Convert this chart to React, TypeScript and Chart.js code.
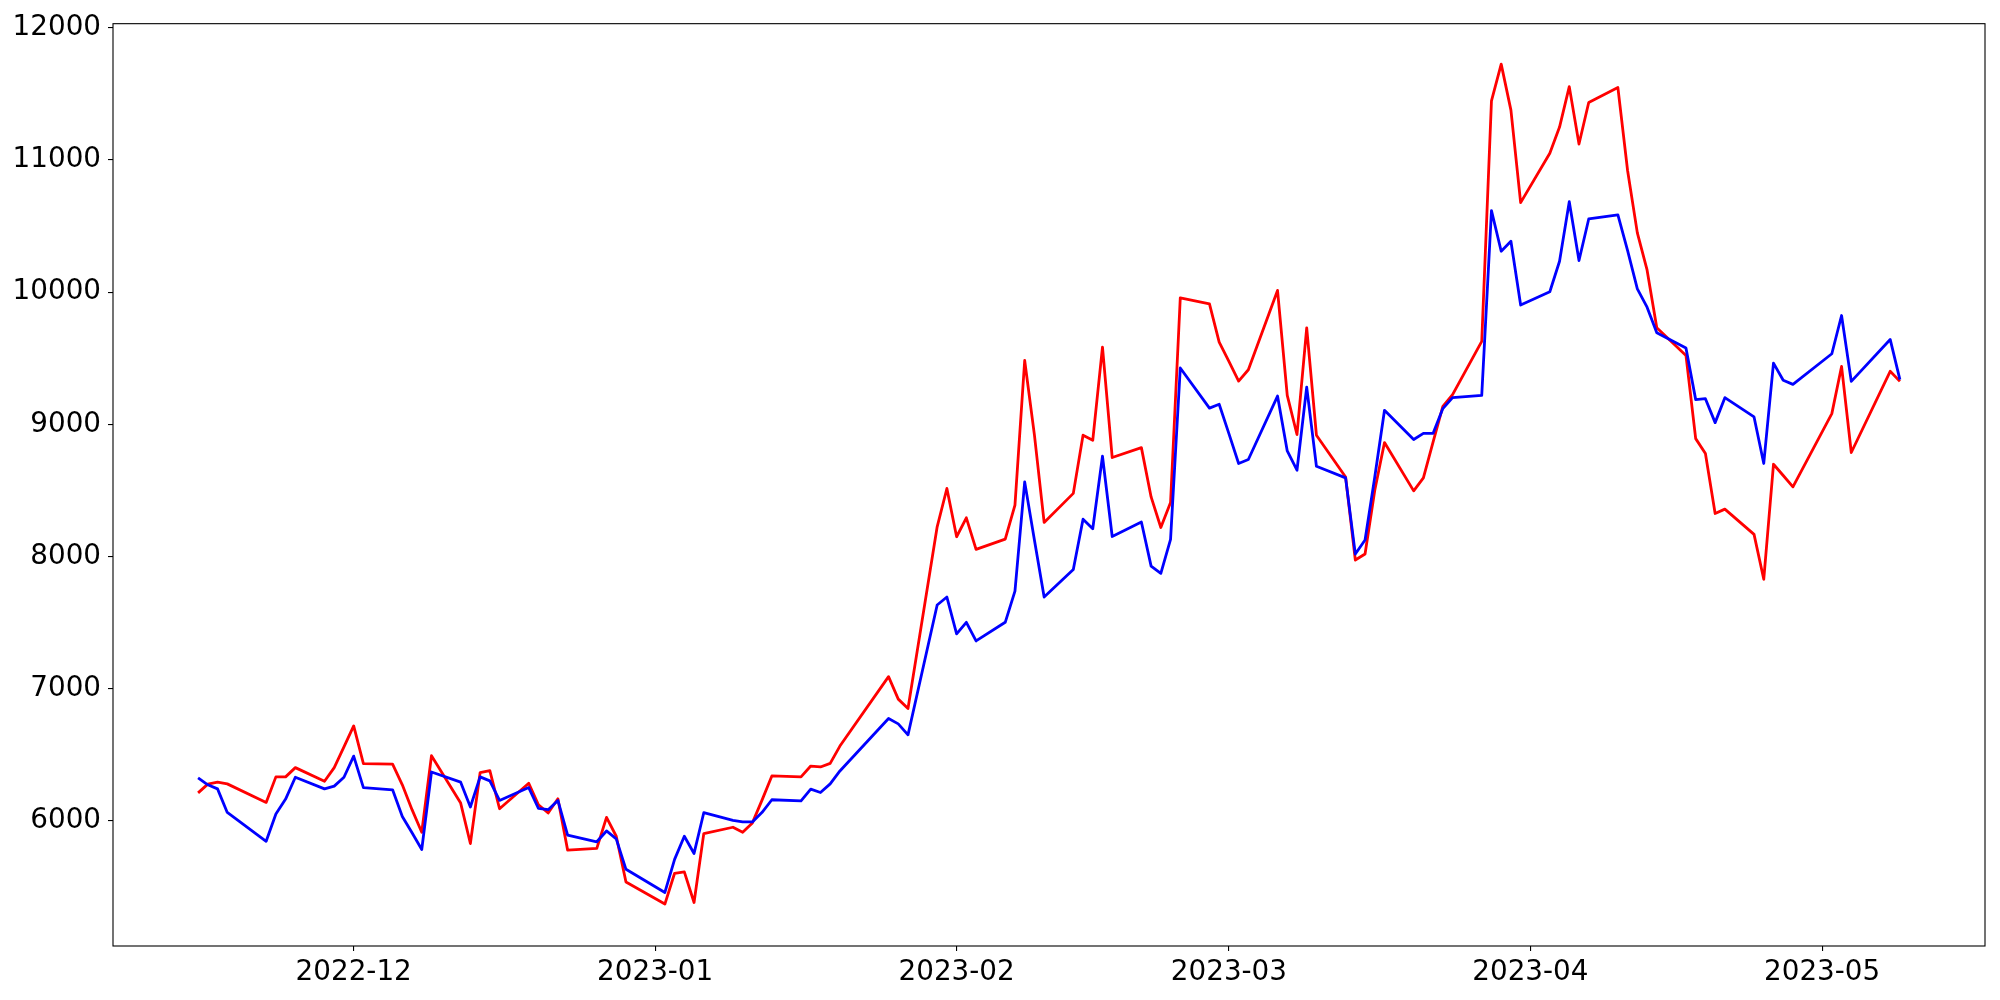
import React, { useEffect, useRef } from "react";
import { Chart, registerables } from "chart.js";

Chart.register(...registerables);

// ---- data -----------------------------------------------------------------
const dates: string[] = [
  "2022-11-15", "2022-11-16", "2022-11-17", "2022-11-18", "2022-11-22", "2022-11-23", "2022-11-24", "2022-11-25",
  "2022-11-28", "2022-11-29", "2022-11-30", "2022-12-01", "2022-12-02", "2022-12-05", "2022-12-06", "2022-12-07",
  "2022-12-08", "2022-12-09", "2022-12-12", "2022-12-13", "2022-12-14", "2022-12-15", "2022-12-16", "2022-12-19",
  "2022-12-20", "2022-12-21", "2022-12-22", "2022-12-23", "2022-12-26", "2022-12-27", "2022-12-28", "2022-12-29",
  "2023-01-02", "2023-01-03", "2023-01-04", "2023-01-05", "2023-01-06", "2023-01-09", "2023-01-10", "2023-01-11",
  "2023-01-12", "2023-01-13", "2023-01-16", "2023-01-17", "2023-01-18", "2023-01-19", "2023-01-20", "2023-01-25",
  "2023-01-26", "2023-01-27", "2023-01-30", "2023-01-31", "2023-02-01", "2023-02-02", "2023-02-03", "2023-02-06",
  "2023-02-07", "2023-02-08", "2023-02-09", "2023-02-10", "2023-02-13", "2023-02-14", "2023-02-15", "2023-02-16",
  "2023-02-17", "2023-02-20", "2023-02-21", "2023-02-22", "2023-02-23", "2023-02-24", "2023-02-27", "2023-02-28",
  "2023-03-01", "2023-03-02", "2023-03-03", "2023-03-06", "2023-03-07", "2023-03-08", "2023-03-09", "2023-03-10",
  "2023-03-13", "2023-03-14", "2023-03-15", "2023-03-16", "2023-03-17", "2023-03-20", "2023-03-21", "2023-03-22",
  "2023-03-23", "2023-03-24", "2023-03-27", "2023-03-28", "2023-03-29", "2023-03-30", "2023-03-31", "2023-04-03",
  "2023-04-04", "2023-04-05", "2023-04-06", "2023-04-07", "2023-04-10", "2023-04-11", "2023-04-12", "2023-04-13",
  "2023-04-14", "2023-04-17", "2023-04-18", "2023-04-19", "2023-04-20", "2023-04-21", "2023-04-24", "2023-04-25",
  "2023-04-26", "2023-04-27", "2023-04-28", "2023-05-02", "2023-05-03", "2023-05-04", "2023-05-08", "2023-05-09",
];

const redValues: number[] = [
  6213, 6279, 6294, 6281, 6141, 6334, 6334, 6404,
  6301, 6404, 6561, 6719, 6434, 6431, 6274, 6086,
  5915, 6494, 6136, 5830, 6366, 6381, 6093, 6286,
  6123, 6061, 6168, 5780, 5793, 6028, 5885, 5539,
  5372, 5605, 5615, 5384, 5905, 5953, 5915, 5986,
  6160, 6341, 6334, 6416, 6409, 6436, 6567, 7092,
  6922, 6851, 8225, 8515, 8150, 8293, 8055, 8132,
  8389, 9483, 8920, 8258, 8478, 8918, 8879, 9584,
  8749, 8824, 8451, 8220, 8409, 9957, 9911, 9622,
  9476, 9327, 9413, 10013, 9219, 8923, 9730, 8918,
  8602, 7974, 8019, 8502, 8862, 8497, 8595, 8867,
  9136, 9225, 9627, 11447, 11724, 11376, 10677, 11050,
  11248, 11554, 11120, 11434, 11547, 10918, 10448, 10168,
  9730, 9521, 8892, 8779, 8326, 8359, 8168, 7828,
  8698, 8613, 8527, 9081, 9438, 8787, 9401, 9325,
];

const blueValues: number[] = [
  6326, 6274, 6243, 6065, 5847, 6053, 6166, 6331,
  6243, 6264, 6331, 6491, 6253, 6236, 6035, 5911,
  5785, 6371, 6294, 6106, 6334, 6304, 6156, 6253,
  6095, 6086, 6156, 5893, 5843, 5925, 5865, 5635,
  5460, 5710, 5885, 5755, 6063, 6005, 5993, 5993,
  6066, 6161, 6153, 6241, 6216, 6281, 6379, 6776,
  6735, 6652, 7634, 7694, 7415, 7503, 7362, 7503,
  7739, 8565, 8125, 7694, 7903, 8283, 8210, 8759,
  8152, 8261, 7928, 7873, 8130, 9426, 9123, 9152,
  8930, 8704, 8734, 9214, 8799, 8653, 9282, 8683,
  8595, 8019, 8125, 8602, 9106, 8885, 8932, 8932,
  9119, 9202, 9219, 10616, 10309, 10384, 9902, 10003,
  10233, 10684, 10239, 10553, 10584, 10314, 10025, 9886,
  9693, 9577, 9187, 9194, 9013, 9202, 9056, 8704,
  9463, 9333, 9302, 9534, 9823, 9325, 9642, 9338,
];

const xTickDates: string[] = ["2022-12-01", "2023-01-01", "2023-02-01", "2023-03-01", "2023-04-01", "2023-05-01"];
const xTickLabels: string[] = ["2022-12", "2023-01", "2023-02", "2023-03", "2023-04", "2023-05"];
const yTickValues: number[] = [6000, 7000, 8000, 9000, 10000, 11000, 12000];

// ---- helpers --------------------------------------------------------------
const BASE = Date.UTC(2022, 11, 1);
function dayOf(s: string): number {
  const [y, m, d] = s.split("-").map(Number);
  return (Date.UTC(y, m - 1, d) - BASE) / 86400000;
}

const FONT = { family: "'DejaVu Sans', sans-serif", size: 27.8 };

const framePlugin = {
  id: "frame",
  afterDraw(chart: any) {
    const { ctx, chartArea: a } = chart;
    ctx.save();
    ctx.strokeStyle = "#000";
    ctx.lineWidth = 1.1;
    ctx.strokeRect(a.left, a.top, a.right - a.left, a.bottom - a.top);
    ctx.restore();
  },
};

export default function App() {
  const canvasRef = useRef<HTMLCanvasElement | null>(null);

  useEffect(() => {
    if (!canvasRef.current) return;
    const xs = dates.map(dayOf);
    const xMinData = Math.min(...xs);
    const xMaxData = Math.max(...xs);
    const xPad = (xMaxData - xMinData) * 0.05;
    const tickDays = xTickDates.map(dayOf);

    const chart = new Chart(canvasRef.current, {
      type: "line",
      data: {
        datasets: [
          {
            label: "red",
            data: xs.map((x, i) => ({ x, y: redValues[i] })),
            borderColor: "#ff0000",
            borderWidth: 2.8,
            pointRadius: 0,
            tension: 0,
            fill: false,
            borderJoinStyle: "round",
            order: 1,
          },
          {
            label: "blue",
            data: xs.map((x, i) => ({ x, y: blueValues[i] })),
            borderColor: "#0000ff",
            borderWidth: 2.8,
            pointRadius: 0,
            tension: 0,
            fill: false,
            borderJoinStyle: "round",
            order: 0,
          },
        ],
      },
      options: {
        animation: false,
        responsive: false,
        devicePixelRatio: 1,
        layout: { padding: { left: 0, top: 23, right: 15, bottom: 0 } },
        plugins: {
          legend: { display: false },
          tooltip: { enabled: false },
        },
        scales: {
          x: {
            type: "linear",
            min: xMinData - xPad,
            max: xMaxData + xPad,
            afterBuildTicks: (scale: any) => {
              scale.ticks = tickDays.map((v) => ({ value: v }));
            },
            afterFit: (scale: any) => {
              scale.height = 54;
            },
            ticks: {
              autoSkip: false,
              maxRotation: 0,
              minRotation: 0,
              padding: 5,
              color: "#000",
              font: FONT,
              callback: (value: any) => {
                const idx = tickDays.indexOf(Number(value));
                return idx >= 0 ? xTickLabels[idx] : "";
              },
            },
            grid: {
              drawOnChartArea: false,
              drawTicks: true,
              tickLength: 5,
              color: "#000",
              lineWidth: 1.1,
            },
            border: { display: false },
          },
          y: {
            type: "linear",
            min: 5055,
            max: 12030,
            afterBuildTicks: (scale: any) => {
              scale.ticks = yTickValues.map((v) => ({ value: v }));
            },
            afterFit: (scale: any) => {
              scale.width = 113;
            },
            ticks: {
              autoSkip: false,
              padding: 7,
              color: "#000",
              font: FONT,
              callback: (value: any) => String(value),
            },
            grid: {
              drawOnChartArea: false,
              drawTicks: true,
              tickLength: 5,
              color: "#000",
              lineWidth: 1.1,
            },
            border: { display: false },
          },
        },
      },
      plugins: [framePlugin],
    } as any);

    return () => chart.destroy();
  }, []);

  return (
    <div style={{ position: "fixed", left: 0, top: 0, width: 2000, height: 1000, background: "#fff" }}>
      <canvas ref={canvasRef} width={2000} height={1000} style={{ width: 2000, height: 1000, display: "block" }} />
    </div>
  );
}
